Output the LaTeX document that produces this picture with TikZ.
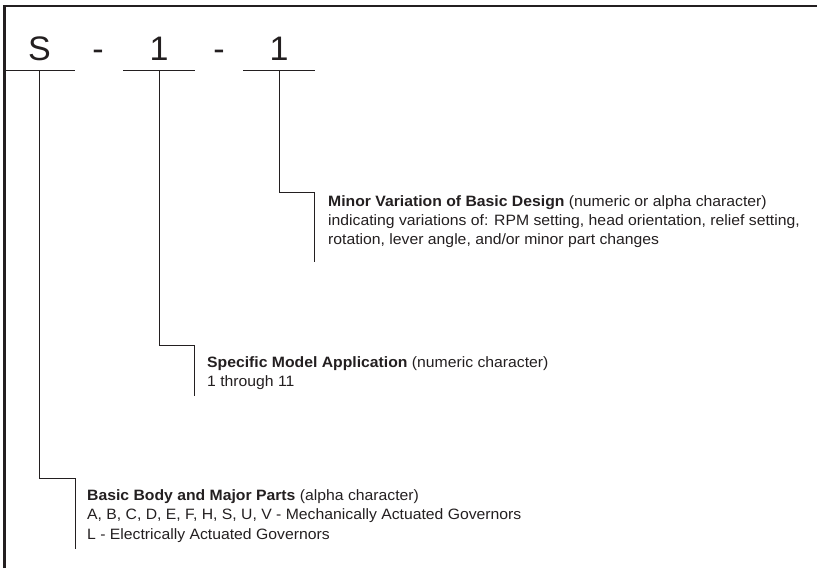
\documentclass[tikz,border=0pt]{standalone}
\usepackage{fontspec}
\setmainfont{Liberation Sans}
\newfontfamily\descfont[FakeStretch=1.05]{Liberation Sans}
\definecolor{ink}{HTML}{231F20}
\begin{document}
\begin{tikzpicture}[x=1pt,y=-1pt,
  code/.style={font=\fontsize{34}{34}\selectfont, text=ink, anchor=base, inner sep=0},
  desc/.style={font=\descfont\fontsize{15}{19.2}\selectfont, text=ink, anchor=base west, align=left, inner sep=0},
  conn/.style={draw=ink, line width=0.9pt},
  frame/.style={draw=ink, line width=2.3pt}]
\useasboundingbox (0,0) rectangle (817,568);
\draw[frame] (4.5,568) -- (4.5,6) -- (817,6);
% code characters
\node[code] (c1) at (39.5,60) {S};
\node[code] (d1) at (98,60) {-};
\node[code] (c2) at (159,60) {1};
\node[code] (d2) at (219,60) {-};
\node[code] (c3) at (279,60) {1};
% underlines
\coordinate (u1a) at (5,70);   \coordinate (u1b) at (75,70);
\coordinate (u2a) at (123,70); \coordinate (u2b) at (195,70);
\coordinate (u3a) at (243,70); \coordinate (u3b) at (315,70);
\draw[conn] (u1a) -- (u1b);
\draw[conn] (u2a) -- (u2b);
\draw[conn] (u3a) -- (u3b);
% descriptions (anchored at the baseline of their last line)
\node[desc] (t3) at (328,244.5) {\textbf{Minor Variation of Basic Design} (numeric or alpha character)\\
indicating variations of: RPM setting, head orientation, relief setting,\\
rotation, lever angle, and/or minor part changes};
\node[desc] (t2) at (207,386.5) {\textbf{Specific Model Application} (numeric character)\\
1 through 11};
\node[desc] (t1) at (87,539) {\textbf{Basic Body and Major Parts} (alpha character)\\
A, B, C, D, E, F, H, S, U, V - Mechanically Actuated Governors\\
L - Electrically Actuated Governors};
% bracket connectors
\coordinate (s1) at (39,70);  \coordinate (k1) at (75,478);  \coordinate (e1) at (75,549);
\coordinate (s2) at (159,70); \coordinate (k2) at (194,345); \coordinate (e2) at (194,396);
\coordinate (s3) at (279,70); \coordinate (k3) at (314,192); \coordinate (e3) at (314,262);
\draw[conn] (s1) |- (k1) -- (e1);
\draw[conn] (s2) |- (k2) -- (e2);
\draw[conn] (s3) |- (k3) -- (e3);
\end{tikzpicture}
\end{document}
